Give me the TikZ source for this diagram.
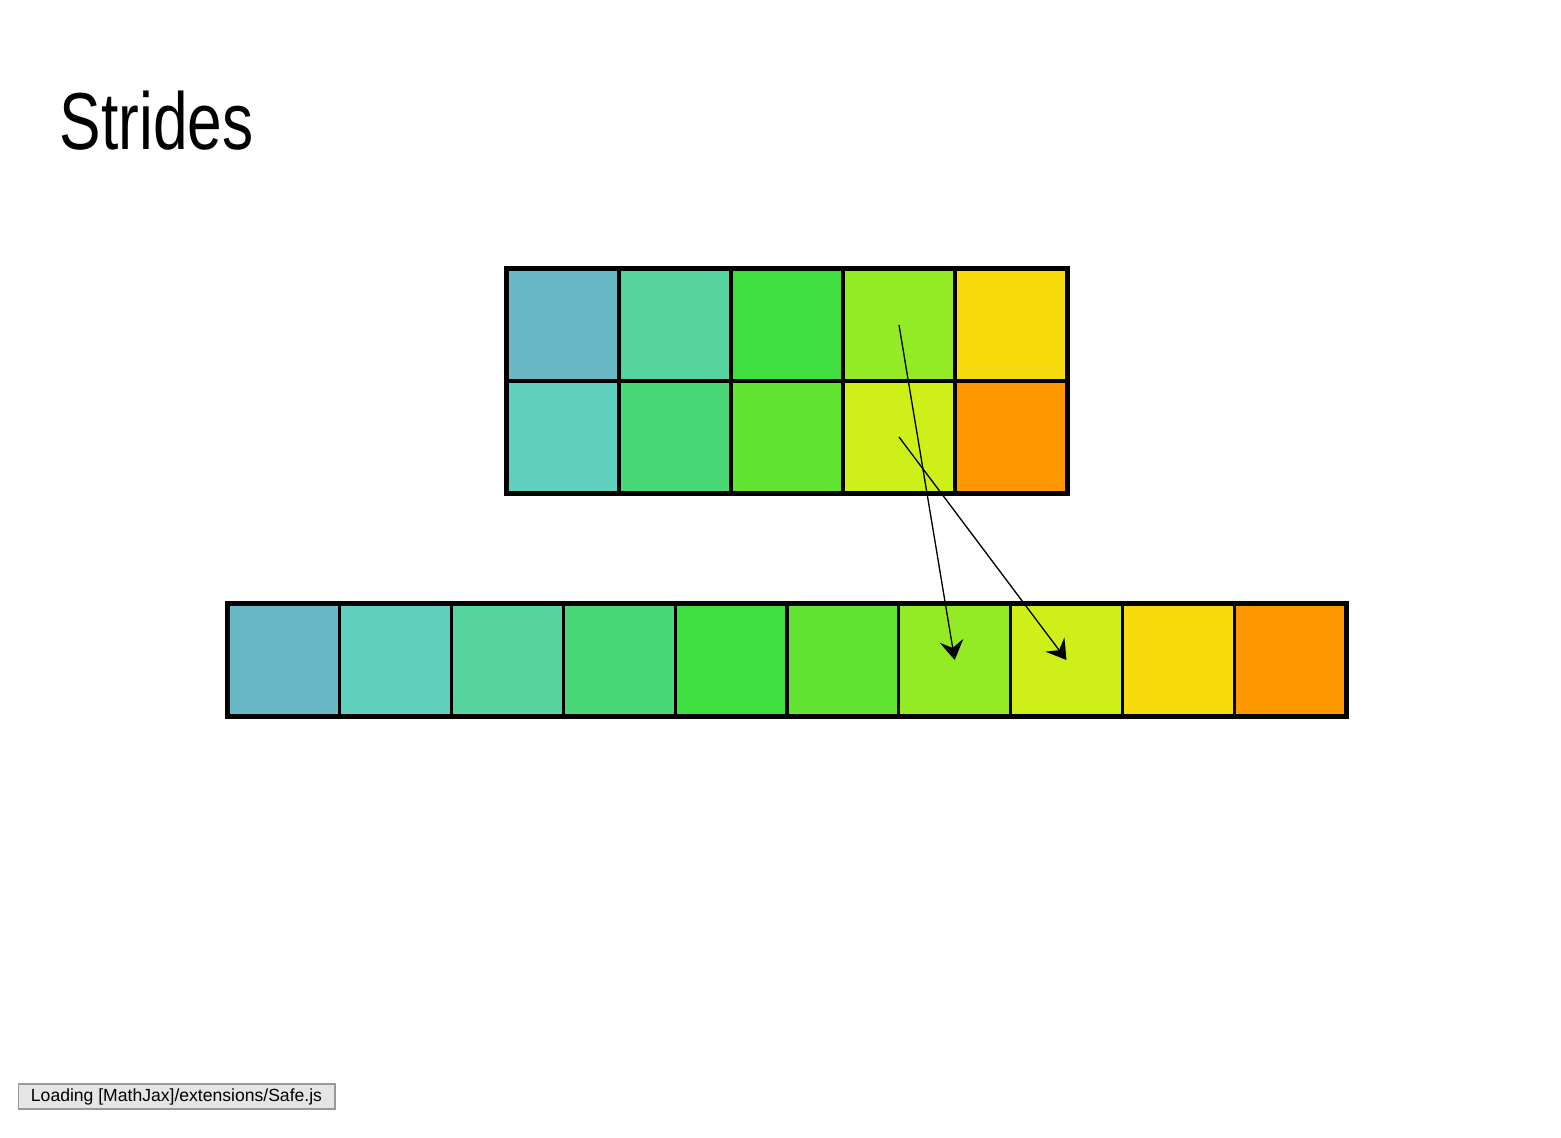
\documentclass[tikz,border=0pt]{standalone}
\usepackage{fontspec}
\setmainfont{Liberation Sans}
\usetikzlibrary{arrows.meta}
\definecolor{CellA}{HTML}{69B8C6}
\definecolor{CellB}{HTML}{5FCFBE}
\definecolor{CellC}{HTML}{57D3A0}
\definecolor{CellD}{HTML}{4AD876}
\definecolor{CellE}{HTML}{3FDF3F}
\definecolor{CellF}{HTML}{62E532}
\definecolor{CellG}{HTML}{93EB25}
\definecolor{CellH}{HTML}{CEF018}
\definecolor{CellI}{HTML}{F8DB0C}
\definecolor{CellJ}{HTML}{FF9800}

\begin{document}
\begin{tikzpicture}[x=0.02cm,y=-0.02cm,
  cell/.style={draw=black,line width=1.75pt,minimum width=2.24cm,minimum height=2.24cm,inner sep=0pt},
  frame/.style={draw=black,line width=1.9pt},
  arr/.style={line width=0.75pt,-{Stealth[length=11pt,width=13.5pt,inset=4pt]}}]
\useasboundingbox[fill=white] (0,0) rectangle (1561,1138);

%%title
\node[anchor=base west,xscale=0.77,font=\fontsize{46}{50}\selectfont] (title) at (55,150) {Strides};

%%2x5 array
\foreach \c/\ca/\cb in {1/CellA/CellB,2/CellC/CellD,3/CellE/CellF,4/CellG/CellH,5/CellI/CellJ}
{
\node[cell,fill=\ca] (top-\c-1) at (451+112*\c,325) {};
\node[cell,fill=\cb] (top-\c-2) at (451+112*\c,437) {};
}
\draw[frame] (top-1-1.north west) rectangle (top-5-2.south east);

%%flat buffer
\foreach \i/\col in {1/CellA,2/CellB,3/CellC,4/CellD,5/CellE,6/CellF,7/CellG,8/CellH,9/CellI,10/CellJ}
{
\node[cell,fill=\col,minimum width=2.236cm] (bot-\i) at (172.1+111.8*\i,660) {};
}
\draw[frame] (bot-1.north west) rectangle (bot-10.south east);

%%strides
\draw[arr] (top-4-1.center) -- (bot-7.center);
\draw[arr] (top-4-2.center) -- (bot-8.center);

%%status box
\node[draw=black!40,fill=black!10,line width=0.6pt,minimum width=6.34cm,minimum height=0.5cm,inner sep=0pt,
  font=\fontsize{10}{12}\selectfont] (loading) at (176.5,1096.5) {Loading [MathJax]/extensions/Safe.js};
\end{tikzpicture}
\end{document}
